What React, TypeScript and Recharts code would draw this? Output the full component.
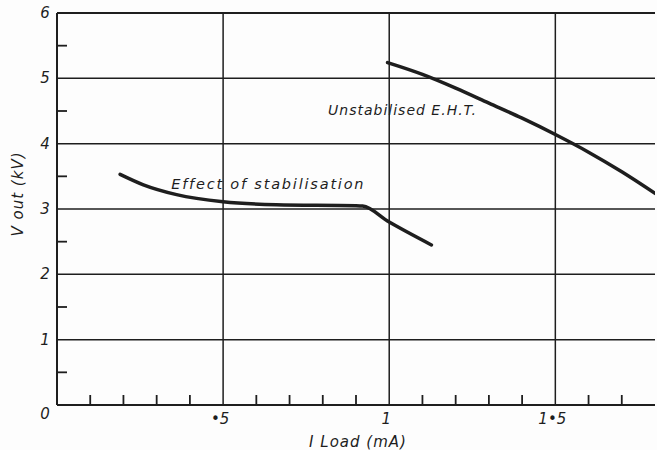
import React from 'react';
import { LineChart, Line, XAxis, YAxis, ReferenceLine, ReferenceDot, Label } from 'recharts';

const stabilised = [
  { x: 0.19, y: 3.53 },
  { x: 0.26, y: 3.37 },
  { x: 0.36, y: 3.22 },
  { x: 0.5, y: 3.11 },
  { x: 0.66, y: 3.065 },
  { x: 0.9, y: 3.05 },
  { x: 0.92, y: 3.045 },
  { x: 1.0, y: 2.8 },
  { x: 1.127, y: 2.45 },
];

const unstabilised = [
  { x: 0.995, y: 5.24 },
  { x: 1.1, y: 5.06 },
  { x: 1.2, y: 4.85 },
  { x: 1.3, y: 4.62 },
  { x: 1.4, y: 4.39 },
  { x: 1.5, y: 4.14 },
  { x: 1.6, y: 3.87 },
  { x: 1.7, y: 3.57 },
  { x: 1.8, y: 3.24 },
];

const xTicks = [0, 0.1, 0.2, 0.3, 0.4, 0.5, 0.6, 0.7, 0.8, 0.9, 1.0, 1.1, 1.2, 1.3, 1.4, 1.5, 1.6, 1.7, 1.8];
const xTickLabels: Record<string, string> = { '0.5': '•5', '1': '1', '1.5': '1•5' };
const yTicks = [0, 0.5, 1, 1.5, 2, 2.5, 3, 3.5, 4, 4.5, 5, 5.5, 6];
const yTickLabels: Record<string, string> = { '0': '0', '1': '1', '2': '2', '3': '3', '4': '4', '5': '5', '6': '6' };
const xGrid = [0.5, 1, 1.5];
const yGrid = [1, 2, 3, 4, 5, 6];

const INK = '#1e1e1e';
const FONT = '"DejaVu Sans", sans-serif';

const XTick = (props: any) => {
  const { x, y, payload } = props;
  const v = Number(payload.value);
  const key = String(Math.round(v * 10) / 10);
  const lbl = xTickLabels[key];
  const isMajor = Math.abs(v - 0.5) < 0.01 || Math.abs(v - 1) < 0.01 || Math.abs(v - 1.5) < 0.01;
  return (
    <g>
      {v > 0.001 && v < 1.79 && !isMajor && (
        <line x1={x} y1={y} x2={x} y2={y - 10} stroke={INK} strokeWidth={1.8} />
      )}
      {lbl && (
        <text x={x - 3} y={y + 19} textAnchor="middle" fontFamily={FONT} fontStyle="italic" fontSize={15} fill={INK}>
          {lbl}
        </text>
      )}
    </g>
  );
};

const YTick = (props: any) => {
  const { x, y, payload } = props;
  const v = Number(payload.value);
  const lbl = yTickLabels[String(v)];
  const isHalf = Math.abs(v - Math.round(v)) > 0.01;
  return (
    <g>
      {isHalf && <line x1={x} y1={y} x2={x + 10} y2={y} stroke={INK} strokeWidth={1.8} />}
      {lbl && (
        <text x={x - 12} y={v === 0 ? y + 14 : y + 5} textAnchor="middle" fontFamily={FONT} fontStyle="italic" fontSize={15} fill={INK}>
          {lbl}
        </text>
      )}
    </g>
  );
};

const annotStab = { x: 0.636, y: 3.38, text: 'Effect of stabilisation' };
const annotUnstab = { x: 1.04, y: 4.52, text: 'Unstabilised E.H.T.' };

export default function App() {
  return (
    <div style={{ position: 'absolute', left: 0, top: 0, width: 657, height: 450, background: '#fdfdfd' }}>
      <LineChart width={657} height={450} margin={{ top: 13, right: 2, left: 56, bottom: 0 }}>
        <XAxis
          type="number"
          dataKey="x"
          domain={[0, 1.8]}
          ticks={xTicks}
          interval={0}
          allowDataOverflow
          height={45}
          tickSize={0}
          tickMargin={0}
          tickLine={false}
          axisLine={{ stroke: INK, strokeWidth: 2 }}
          tick={<XTick />}
        >
          <Label
            content={(p: any) => {
              const vb = p.viewBox;
              return (
                <text x={vb.x + vb.width / 2 + 2} y={vb.y + 42} textAnchor="middle" fontFamily={FONT} fontStyle="italic" fontSize={15} letterSpacing={1} fill={INK}>
                  I Load (mA)
                </text>
              );
            }}
          />
        </XAxis>
        <YAxis
          type="number"
          dataKey="y"
          domain={[0, 6]}
          ticks={yTicks}
          interval={0}
          allowDataOverflow
          width={1}
          tickSize={0}
          tickMargin={0}
          tickLine={false}
          axisLine={{ stroke: INK, strokeWidth: 2 }}
          tick={<YTick />}
        >
          <Label
            content={(p: any) => {
              const vb = p.viewBox;
              const cx = 18;
              const cy = vb.y + vb.height / 2 - 15;
              return (
                <text x={cx} y={cy} transform={`rotate(-90 ${cx} ${cy})`} textAnchor="middle" dominantBaseline="middle" fontFamily={FONT} fontStyle="italic" fontSize={15} letterSpacing={1} fill={INK}>
                  V out (kV)
                </text>
              );
            }}
          />
        </YAxis>
        {xGrid.map((v) => (
          <ReferenceLine key={'vx' + v} x={v} stroke={INK} strokeWidth={1.5} />
        ))}
        {yGrid.map((v) => (
          <ReferenceLine key={'hy' + v} y={v} stroke={INK} strokeWidth={v === 6 ? 2 : 1.5} />
        ))}
        <Line data={stabilised} dataKey="y" type="monotone" stroke={INK} strokeWidth={3.5} dot={false} isAnimationActive={false} strokeLinecap="round" />
        <Line data={unstabilised} dataKey="y" type="monotone" stroke={INK} strokeWidth={3.5} dot={false} isAnimationActive={false} strokeLinecap="round" />
        <ReferenceDot
          x={annotStab.x}
          y={annotStab.y}
          r={0}
          stroke="none"
          label={(p: any) => (
            <text x={p.viewBox.x} y={p.viewBox.y + 5} textAnchor="middle" fontFamily={FONT} fontStyle="italic" fontSize={14.5} letterSpacing={1.8} fill={INK}>
              {annotStab.text}
            </text>
          )}
        />
        <ReferenceDot
          x={annotUnstab.x}
          y={annotUnstab.y}
          r={0}
          stroke="none"
          label={(p: any) => (
            <text x={p.viewBox.x} y={p.viewBox.y + 5} textAnchor="middle" fontFamily={FONT} fontStyle="italic" fontSize={14} letterSpacing={1} fill={INK}>
              {annotUnstab.text}
            </text>
          )}
        />
      </LineChart>
    </div>
  );
}
